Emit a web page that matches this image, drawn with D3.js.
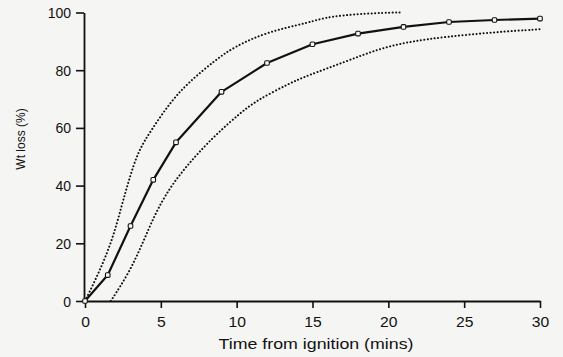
<!DOCTYPE html>
<html>
<head>
<meta charset="utf-8">
<script src="https://cdn.jsdelivr.net/npm/d3@7"></script>
<style>
  html, body { margin: 0; padding: 0; background: #f5f5f4; }
  svg { display: block; }
  text { font-family: "Liberation Sans", Arial, Helvetica, sans-serif; fill: #111; }
</style>
</head>
<body>
<svg id="chart" width="563" height="357"></svg>
<script>
// Mean weight loss over time after ignition, with upper and lower envelopes
const meanTime = [0, 1.5, 3, 4.5, 6, 9, 12, 15, 18, 21, 24, 27, 30];
const meanLoss = [0, 9, 26, 42, 55, 72.5, 82.5, 89, 92.7, 95, 96.7, 97.4, 97.9];

const upperTime = [0, 0.9, 1.8, 2.4, 2.9, 3.5, 4.4, 5.7, 7, 8.6, 9.8, 12, 14.8, 16.1, 19.4, 20.8];
const upperLoss = [0, 9.6, 21, 32.7, 42, 52, 59.5, 69.5, 76.6, 83.5, 88, 93.3, 96.5, 98.8, 99.9, 100];

const lowerTime = [1.7, 2.9, 3.8, 4.6, 5.5, 6.5, 7.5, 8.7, 10.2, 11.3, 13.5, 14.6, 17.2, 19.4, 21.5, 23.8, 27, 30];
const lowerLoss = [0, 9.7, 20, 30, 38.5, 45.5, 51.5, 58, 65, 69.5, 75.5, 78, 83, 87.5, 90, 91.6, 93.2, 94.2];

const xTicks = [0, 5, 10, 15, 20, 25, 30];
const yTicks = [0, 20, 40, 60, 80, 100];

const svg = d3.select("#chart");
const x = d3.scaleLinear().domain([0, 30]).range([85, 540]);
const y = d3.scaleLinear().domain([0, 100]).range([301, 12.5]);

const ink = "#111";

// Axes
const xAxis = svg.append("g")
  .attr("transform", `translate(0,${y(0)})`)
  .call(d3.axisBottom(x).tickValues(xTicks).tickSize(7).tickSizeOuter(0).tickPadding(6));
const yAxis = svg.append("g")
  .attr("transform", `translate(${x(0) - 1},0)`)
  .call(d3.axisLeft(y).tickValues(yTicks).tickSize(8).tickSizeOuter(0).tickPadding(5));

[xAxis, yAxis].forEach(g => {
  g.select(".domain").attr("stroke", ink).attr("stroke-width", 1.8);
  g.selectAll(".tick line").attr("stroke", ink).attr("stroke-width", 1.6);
  g.selectAll(".tick text")
    .attr("fill", ink)
    .style("font-size", "14px")
    .style("font-family", "'Liberation Sans', Arial, sans-serif");
});
// slightly wide numerals, centred on their ticks
xAxis.selectAll(".tick text").attr("dy", "0.95em").attr("transform", "scale(1.12,1)");
yAxis.selectAll(".tick text").attr("dy", "0.36em");

// Axis titles
svg.append("text")
  .attr("x", 316).attr("y", 349)
  .attr("text-anchor", "middle")
  .attr("textLength", 195).attr("lengthAdjust", "spacingAndGlyphs")
  .style("font-size", "14px")
  .text("Time from ignition (mins)");

svg.append("g")
  .attr("transform", "translate(25,139)")
  .append("text")
  .attr("transform", "rotate(-90)")
  .attr("text-anchor", "middle")
  .attr("font-size", 12)
  .style("font-size", "12px")
  .text("Wt loss (%)");

// Dotted envelope curves
const envelope = d3.line().x(d => x(d[0])).y(d => y(d[1])).curve(d3.curveBasis);
[[upperTime, upperLoss], [lowerTime, lowerLoss]].forEach(([ts, vs]) => {
  svg.append("path")
    .datum(ts.map((t, i) => [t, vs[i]]))
    .attr("d", envelope)
    .attr("fill", "none")
    .attr("stroke", ink)
    .attr("stroke-width", 2)
    .attr("stroke-linecap", "round")
    .attr("stroke-dasharray", "0.1,3.4");
});

// Mean curve with open markers
const meanPts = meanTime.map((t, i) => [t, meanLoss[i]]);
svg.append("path")
  .datum(meanPts)
  .attr("d", d3.line().x(d => x(d[0])).y(d => y(d[1])))
  .attr("fill", "none")
  .attr("stroke", ink)
  .attr("stroke-width", 2.2)
  .attr("stroke-linejoin", "round");

svg.selectAll("rect.marker")
  .data(meanPts)
  .join("rect")
  .attr("class", "marker")
  .attr("x", d => x(d[0]) - 2.3)
  .attr("y", d => y(d[1]) - 2.3)
  .attr("width", 4.6).attr("height", 4.6)
  .attr("rx", 1.2)
  .attr("fill", "#f8f8f8")
  .attr("stroke", ink)
  .attr("stroke-width", 1.1);
</script>
</body>
</html>
